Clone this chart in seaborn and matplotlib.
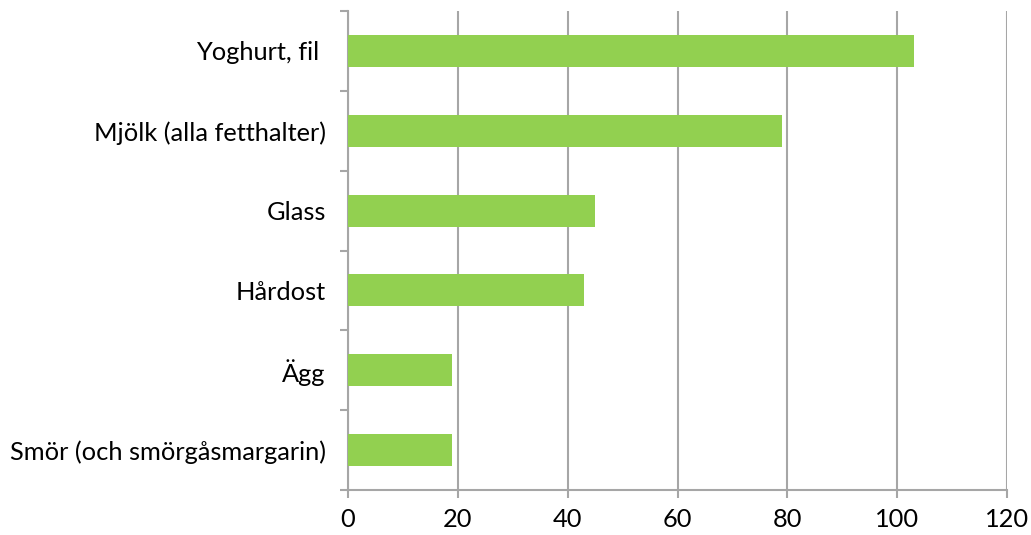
import matplotlib
matplotlib.use("Agg")
import matplotlib.pyplot as plt
import matplotlib.ticker as mticker
import seaborn as sns
import pandas as pd

# Data
categories = ["Yoghurt, fil ", "Mjölk (alla fetthalter)", "Glass", "Hårdost", "Ägg",
              "Smör (och smörgåsmargarin)"]
values = [103, 79, 45, 43, 19, 19]

df = pd.DataFrame({"kategori": categories, "varde": values})

sns.set_style("white")
plt.rcParams["font.family"] = ["Lato", "DejaVu Sans"]

grey = "#a6a6a6"
fig = plt.figure(figsize=(10.31, 5.35), dpi=100)
ax = fig.add_axes([348 / 1031, 1 - 490 / 535, 659 / 1031, 479 / 535])

sns.barplot(data=df, x="varde", y="kategori", orient="h", color="#92d050",
            width=0.4, saturation=1, linewidth=0, ax=ax, zorder=3)

ax.set_xlim(0, 120)
ax.set_ylim(5.5, -0.5)
ax.set_xticks(range(0, 121, 20))
ax.xaxis.grid(True, color=grey, linewidth=1.5, zorder=0)
ax.set_axisbelow(True)
ax.set_xlabel("")
ax.set_ylabel("")

# ticks on the category axis sit between bars
ax.yaxis.set_minor_locator(mticker.FixedLocator([i - 0.5 for i in range(7)]))
ax.tick_params(axis="y", which="major", length=0, pad=16, labelsize=18.3, colors="black")
ax.tick_params(axis="y", which="minor", length=5.5, width=1.5, color=grey, left=True)
ax.tick_params(axis="x", length=6, width=1.5, color=grey, pad=7, labelsize=18.3,
               bottom=True, labelcolor="black")

for side in ["top", "right"]:
    ax.spines[side].set_visible(False)
for side in ["left", "bottom"]:
    ax.spines[side].set_color(grey)
    ax.spines[side].set_linewidth(1.5)

fig.savefig("out.png", dpi=100)
